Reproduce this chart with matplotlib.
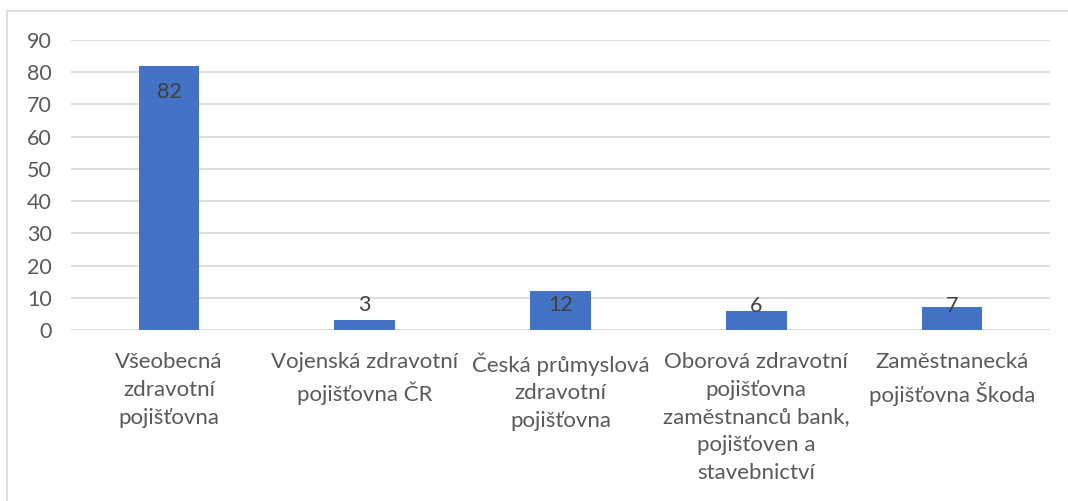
import matplotlib
matplotlib.use("Agg")
import matplotlib.pyplot as plt
import numpy as np
from matplotlib.lines import Line2D

categories = [
    "Všeobecná\nzdravotní\npojišťovna",
    "Vojenská zdravotní\npojišťovna ČR",
    "Česká průmyslová\nzdravotní\npojišťovna",
    "Oborová zdravotní\npojišťovna\nzaměstnanců bank,\npojišťoven a\nstavebnictví",
    "Zaměstnanecká\npojišťovna Škoda",
]
values = [82, 3, 12, 6, 7]
yticks = list(range(0, 100, 10))

# label offsets in points (Excel "inside end" look)
label_offsets = [-19, 11, -10, 3, 1]

plt.rcParams['font.family'] = ['Lato', 'DejaVu Sans']

fig = plt.figure(figsize=(10.68, 5.01), dpi=100)
ax = fig.add_axes([71/1068, 1 - 330/501, (1050 - 71)/1068, 290/501])

x = np.arange(len(values))
ax.bar(x, values, width=0.31, color="#4472C4", zorder=3)

for xi, v, off in zip(x, values, label_offsets):
    ax.annotate(str(v), (xi, v), xytext=(0, off), textcoords="offset points",
                ha="center", va="center", fontsize=15.5, color="#404040", zorder=4)

ax.set_xlim(-0.5, len(values) - 0.5)
ax.set_ylim(0, 90)
ax.set_yticks(yticks)
ax.set_xticks(x)
ax.set_xticklabels(categories, fontsize=16, color="#595959", linespacing=1.48)
ax.tick_params(axis="y", labelsize=15.5, labelcolor="#595959", length=0, pad=14)
ax.tick_params(axis="x", length=0, pad=16)
ax.grid(axis="y", color="#D9D9D9", linewidth=1.2, zorder=0)
for s in ax.spines.values():
    s.set_visible(False)
ax.axhline(0, color="#D9D9D9", linewidth=1.2, zorder=1)

# chart area border (left and top visible)
fig.add_artist(Line2D([7/1068, 7/1068], [0, 1 - 11/501], transform=fig.transFigure,
                      color="#D9D9D9", linewidth=1.2))
fig.add_artist(Line2D([7/1068, 1], [1 - 11/501, 1 - 11/501], transform=fig.transFigure,
                      color="#D9D9D9", linewidth=1.2))

fig.savefig("out.png", dpi=100)
